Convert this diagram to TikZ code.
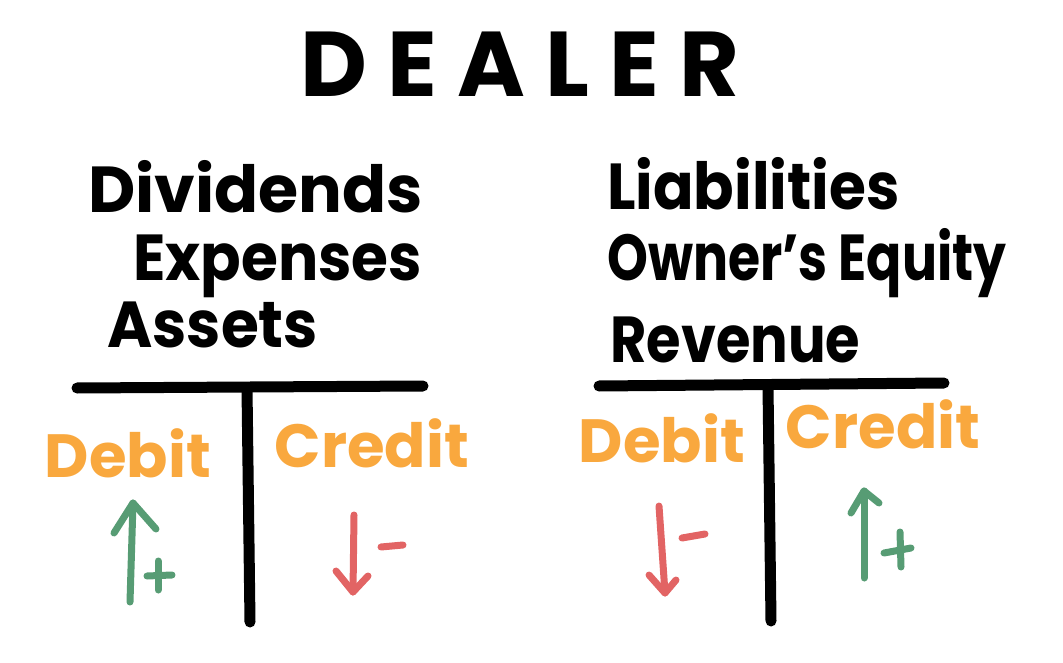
\documentclass[tikz,border=0pt]{standalone}
\usepackage{fontspec}
\usepackage{graphicx}
\setmainfont{Poppins}
\newfontfamily\handfont{Poppins}
\newfontfamily\titlefont[LetterSpace=22]{Poppins}
\definecolor{orangetxt}{HTML}{F9A83E}
\definecolor{greenarr}{HTML}{579C74}
\definecolor{redarr}{HTML}{E26464}
\tikzset{
  px/.style={x=1pt,y=-1pt},
  tbar/.style={line width=11pt,line cap=round,black},
  headtxt/.style={font=\handfont\bfseries\fontsize{65}{67}\selectfont,inner sep=0pt,anchor=base west},
  sidetxt/.style={font=\handfont\bfseries\fontsize{61}{63}\selectfont,inner sep=0pt,text=orangetxt,anchor=base},
  uparr/.style={line width=7pt,line cap=round,line join=round,greenarr},
  downarr/.style={line width=7pt,line cap=round,line join=round,redarr},
}
\begin{document}
\begin{tikzpicture}[px]
\useasboundingbox (0,0) rectangle (1063,663);
% title
\node[font=\titlefont\bfseries\fontsize{92}{94}\selectfont,inner sep=0pt,anchor=base] (title) at (520,97) {DEALER};
% left account names
\node[headtxt] (div) at (88,213) {Dividends};
\node[headtxt] (exp) at (133,280) {\scalebox{0.92}[1]{Expenses}};
\node[headtxt] (ass) at (107,347) {\scalebox{0.945}[1]{Assets}};
% right account names
\node[headtxt] (lia) at (607,210) {\scalebox{0.92}[1]{Liabilities}};
\node[headtxt] (own) at (607,280) {\scalebox{0.8}[1]{Owner’s Equity}};
\node[headtxt] (rev) at (610,362) {\scalebox{0.86}[1]{Revenue}};
% left T
\coordinate (lTa) at (77,388);
\coordinate (lTb) at (423,386);
\coordinate (lTtop) at (247,388);
\coordinate (lTbot) at (250,622);
\draw[tbar] (lTa) -- (lTb);
\draw[tbar] (lTtop) -- (lTbot);
% right T
\coordinate (rTa) at (599,386);
\coordinate (rTb) at (944,383);
\coordinate (rTtop) at (768,386);
\coordinate (rTbot) at (771,621);
\draw[tbar] (rTa) -- (rTb);
\draw[tbar] (rTtop) -- (rTbot);
% debit / credit labels
\node[sidetxt] (ldeb) at (128,477) {Debit};
\node[sidetxt] (lcre) at (372,467) {Credit};
\node[sidetxt] (rdeb) at (662,462) {Debit};
\node[sidetxt] (rcre) at (883,448) {Credit};
% left green up arrow with +
\coordinate (lgA) at (130,602);
\coordinate (lgB) at (133,503);
\coordinate (lgL) at (114,533);
\coordinate (lgR) at (156,529);
\draw[uparr] (lgA) -- (lgB);
\draw[uparr] (lgL) -- (lgB) -- (lgR);
\coordinate (lp1) at (147,576);
\coordinate (lp2) at (172,575);
\coordinate (lp3) at (158,561);
\coordinate (lp4) at (158,590);
\draw[uparr] (lp1) -- (lp2);
\draw[uparr] (lp3) -- (lp4);
% left red down arrow with -
\coordinate (lrA) at (354,515);
\coordinate (lrB) at (353,592);
\coordinate (lrL) at (336,571);
\coordinate (lrR) at (368,576);
\draw[downarr] (lrA) -- (lrB);
\draw[downarr] (lrL) -- (lrB) -- (lrR);
\coordinate (lm1) at (381,547);
\coordinate (lm2) at (403,545);
\draw[downarr] (lm1) -- (lm2);
% right red down arrow with -
\coordinate (rrA) at (659,506);
\coordinate (rrB) at (665,593);
\coordinate (rrL) at (649,575);
\coordinate (rrR) at (676,580);
\draw[downarr] (rrA) -- (rrB);
\draw[downarr] (rrL) -- (rrB) -- (rrR);
\coordinate (rm1) at (682,538);
\coordinate (rm2) at (705,534);
\draw[downarr] (rm1) -- (rm2);
% right green up arrow with +
\coordinate (rgA) at (864,578);
\coordinate (rgB) at (864,491);
\coordinate (rgL) at (851,513);
\coordinate (rgR) at (879,503);
\draw[uparr] (rgA) -- (rgB);
\draw[uparr] (rgL) -- (rgB) -- (rgR);
\coordinate (rp1) at (884,553);
\coordinate (rp2) at (911,548);
\coordinate (rp3) at (900,532);
\coordinate (rp4) at (901,567);
\draw[uparr] (rp1) -- (rp2);
\draw[uparr] (rp3) -- (rp4);
\end{tikzpicture}
\end{document}
